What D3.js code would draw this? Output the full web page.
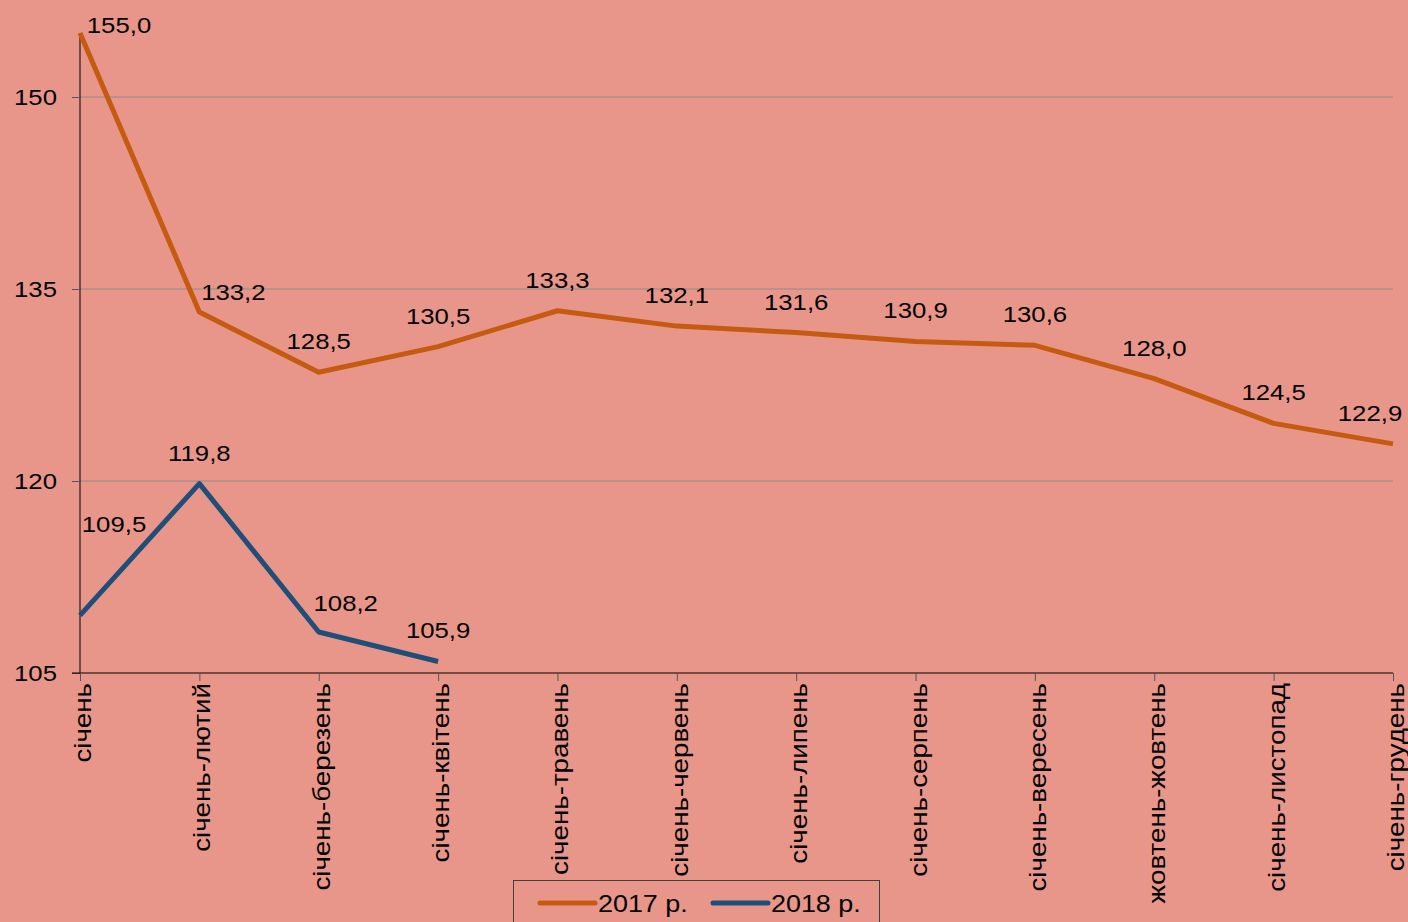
<html>
<head>
  <meta charset="utf-8">
  <script src="https://d3js.org/d3.v7.min.js"></script>
  <style>
    body { margin: 0; background: #e9968a; }
    svg { display: block; font-family: "Liberation Sans", Arial, sans-serif; }
  </style>
</head>
<body>
  <svg id="root" width="1408" height="922"></svg>
  <script>
    var categories = ['січень', 'січень-лютий', 'січень-березень', 'січень-квітень', 'січень-травень',
      'січень-червень', 'січень-липень', 'січень-серпень', 'січень-вересень', 'жовтень-жовтень',
      'січень-листопад', 'січень-грудень'];
    var values2017 = [155.0, 133.2, 128.5, 130.5, 133.3, 132.1, 131.6, 130.9, 130.6, 128.0, 124.5, 122.9];
    var values2018 = [109.5, 119.8, 108.2, 105.9];
    var yTicks = [105, 120, 135, 150];
    var seriesNames = ['2017 р.', '2018 р.'];

    // label nudges (layout only)
    var labelShift2017 = { 0: [39, 23], 1: [34, 11], 11: [-23, 0] };
    var labelShift2018 = { 0: [34, -60], 2: [27, 2] };

    var width = 1408, height = 922;
    var plotLeft = 80, plotRight = 1393, plotTop = 33, plotBottom = 673;
    var colors = ['#c55a11', '#1f4e79'];
    var stretch = 1.17;

    var svg = d3.select('#root');
    svg.append('rect').attr('width', width).attr('height', height).attr('fill', '#e9968a');

    var x = d3.scalePoint().domain(categories).range([plotLeft, plotRight]);
    var y = d3.scaleLinear().domain([105, 155]).range([plotBottom, plotTop]);

    // gridlines
    svg.append('g').selectAll('line')
      .data(yTicks.filter(function (d) { return d !== 105; }))
      .enter().append('line')
      .attr('x1', plotLeft).attr('x2', plotRight)
      .attr('y1', function (d) { return y(d); })
      .attr('y2', function (d) { return y(d); })
      .attr('stroke', '#8c8c8c').attr('stroke-width', 1);

    // y axis
    var yAxis = svg.append('g')
      .attr('transform', 'translate(' + plotLeft + ',0)')
      .call(d3.axisLeft(y).tickValues(yTicks).tickSize(8).tickPadding(14).tickFormat(d3.format('d')));
    yAxis.select('.domain').attr('stroke', '#000').attr('d', 'M0,' + plotTop + 'V' + plotBottom);
    yAxis.selectAll('.tick line').attr('stroke', '#555');
    yAxis.selectAll('.tick text').attr('font-size', 22).attr('fill', '#000')
      .attr('font-family', '"Liberation Sans", Arial, sans-serif')
      .attr('x', 0)
      .attr('transform', 'translate(-23,0) scale(' + stretch + ',1)');

    // x axis
    var xAxis = svg.append('g')
      .attr('transform', 'translate(0,' + plotBottom + ')')
      .call(d3.axisBottom(x).tickSize(8).tickSizeOuter(0));
    xAxis.select('.domain').attr('stroke', '#000').attr('d', 'M' + (plotLeft - 8) + ',0H' + plotRight);
    xAxis.selectAll('.tick line').attr('stroke', '#555');
    xAxis.selectAll('.tick text')
      .attr('font-size', 23.7).attr('fill', '#000')
      .attr('font-family', '"Liberation Sans", Arial, sans-serif')
      .attr('transform', 'rotate(-90) translate(-10,2) scale(' + stretch + ',1)')
      .attr('text-anchor', 'end')
      .attr('x', 0).attr('y', 0).attr('dy', '0.36em');

    var line = d3.line()
      .x(function (d, i) { return x(categories[i]); })
      .y(function (d) { return y(d); });

    [values2017, values2018].forEach(function (vals, s) {
      svg.append('path')
        .datum(vals)
        .attr('fill', 'none')
        .attr('stroke', colors[s])
        .attr('stroke-width', 5)
        .attr('stroke-linejoin', 'round')
        .attr('d', line);
    });

    function drawLabels(vals, shifts) {
      svg.append('g').selectAll('text')
        .data(vals)
        .enter().append('text')
        .attr('transform', function (d, i) {
          var tx = x(categories[i]) + (shifts[i] ? shifts[i][0] : 0);
          var ty = y(d) - 23 + (shifts[i] ? shifts[i][1] : 0);
          return 'translate(' + tx + ',' + ty + ') scale(' + stretch + ',1)';
        })
        .attr('text-anchor', 'middle')
        .attr('font-size', 22)
        .attr('fill', '#000')
        .text(function (d) { return d.toFixed(1).replace('.', ','); });
    }
    drawLabels(values2017, labelShift2017);
    drawLabels(values2018, labelShift2018);

    // legend
    var legend = svg.append('g');
    legend.append('rect')
      .attr('x', 513.5).attr('y', 880.5).attr('width', 366).attr('height', 60)
      .attr('fill', '#e9968a').attr('stroke', '#404040').attr('stroke-width', 1);
    var legendX = [540, 713];
    seriesNames.forEach(function (name, s) {
      legend.append('line')
        .attr('x1', legendX[s]).attr('x2', legendX[s] + 55)
        .attr('y1', 903).attr('y2', 903)
        .attr('stroke', colors[s]).attr('stroke-width', 5).attr('stroke-linecap', 'round');
      legend.append('text')
        .attr('transform', 'translate(' + (legendX[s] + 58) + ',912) scale(' + stretch + ',1)')
        .attr('font-size', 23).attr('fill', '#000')
        .text(name);
    });
  </script>
</body>
</html>
